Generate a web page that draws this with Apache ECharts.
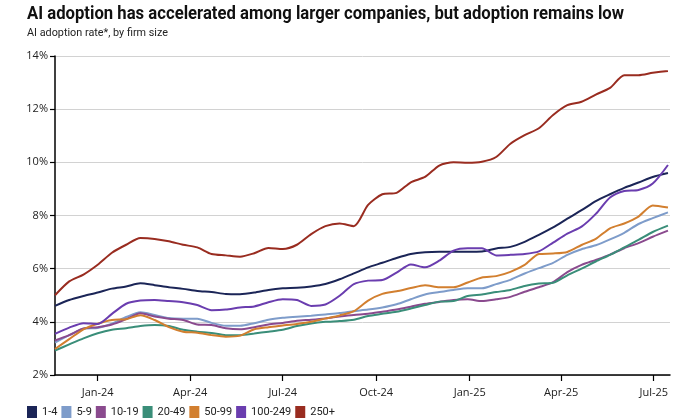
<!DOCTYPE html>
<html>
<head>
<meta charset="utf-8">
<script src="https://cdn.jsdelivr.net/npm/echarts@6/dist/echarts.min.js"></script>
<style>
html,body{margin:0;padding:0;background:#fff;}
#chart{width:700px;height:420px;}
</style>
</head>
<body>
<div id="chart"></div>
<script>
// ---- data ----
var titleText = 'AI adoption has accelerated among larger companies, but adoption remains low';
var subtitleText = 'AI adoption rate*, by firm size';
var dates = [
 '2023-11-20','2023-12-04','2023-12-18','2024-01-01','2024-01-15','2024-01-29','2024-02-12','2024-02-26',
 '2024-03-11','2024-03-25','2024-04-08','2024-04-22','2024-05-06','2024-05-20','2024-06-03','2024-06-17',
 '2024-07-01','2024-07-15','2024-07-29','2024-08-12','2024-08-26','2024-09-09','2024-09-23','2024-10-07',
 '2024-10-21','2024-11-04','2024-11-18','2024-12-02','2024-12-16','2024-12-30','2025-01-13','2025-01-27',
 '2025-02-10','2025-02-24','2025-03-10','2025-03-24','2025-04-07','2025-04-21','2025-05-05','2025-05-19',
 '2025-06-02','2025-06-16','2025-06-30','2025-07-15'
];
var seriesNames = ['1-4','5-9','10-19','20-49','50-99','100-249','250+'];
var firm_1_4 = [4.6,4.82,4.97,5.1,5.25,5.33,5.45,5.38,5.3,5.24,5.16,5.12,5.05,5.04,5.1,5.2,5.26,5.28,5.33,5.42,5.6,5.82,6.05,6.22,6.4,6.55,6.62,6.64,6.64,6.64,6.65,6.76,6.82,7.01,7.27,7.55,7.88,8.2,8.54,8.8,9.04,9.24,9.45,9.6];
var firm_5_9 = [3.22,3.5,3.74,3.77,3.93,4.18,4.36,4.26,4.14,4.12,4.12,3.96,3.85,3.85,3.95,4.08,4.15,4.19,4.23,4.28,4.33,4.4,4.46,4.54,4.66,4.85,5.03,5.12,5.2,5.26,5.26,5.42,5.58,5.82,6.02,6.22,6.52,6.73,6.88,7.1,7.35,7.68,7.9,8.12];
var firm_10_19 = [3.3,3.5,3.75,3.8,3.9,4.1,4.32,4.2,4.12,4.07,3.9,3.88,3.76,3.72,3.8,3.9,3.96,4.04,4.08,4.13,4.2,4.26,4.3,4.38,4.46,4.57,4.68,4.75,4.82,4.85,4.78,4.85,4.94,5.13,5.3,5.49,5.87,6.14,6.33,6.53,6.77,6.96,7.2,7.43];
var firm_20_49 = [2.92,3.15,3.38,3.57,3.7,3.76,3.84,3.88,3.84,3.7,3.63,3.58,3.5,3.5,3.56,3.63,3.7,3.84,3.94,4.0,4.03,4.08,4.22,4.3,4.38,4.5,4.63,4.76,4.78,4.97,5.03,5.12,5.2,5.35,5.44,5.47,5.75,6.0,6.27,6.52,6.8,7.08,7.38,7.62];
var firm_50_99 = [2.98,3.35,3.72,3.93,4.07,4.1,4.25,4.07,3.8,3.63,3.59,3.5,3.44,3.48,3.72,3.8,3.86,3.92,4.0,4.12,4.24,4.4,4.8,5.05,5.15,5.27,5.38,5.3,5.3,5.48,5.67,5.72,5.88,6.14,6.55,6.57,6.63,6.89,7.12,7.52,7.7,7.96,8.38,8.3];
var firm_100_249 = [3.55,3.78,3.95,3.92,4.3,4.68,4.8,4.82,4.78,4.74,4.63,4.44,4.46,4.54,4.58,4.74,4.85,4.82,4.6,4.65,4.98,5.42,5.55,5.57,5.85,6.16,6.05,6.3,6.68,6.77,6.77,6.5,6.52,6.55,6.65,6.98,7.32,7.58,8.06,8.68,8.92,8.96,9.2,9.9];
var firm_250_plus = [5.0,5.52,5.78,6.15,6.6,6.9,7.15,7.12,7.03,6.9,6.8,6.55,6.5,6.45,6.58,6.78,6.74,6.9,7.3,7.6,7.7,7.6,8.4,8.8,8.85,9.25,9.45,9.88,10.0,9.98,10.02,10.2,10.7,11.02,11.28,11.78,12.15,12.28,12.55,12.8,13.28,13.28,13.37,13.44];
var tickDates = ['2024-01-01','2024-04-01','2024-07-01','2024-10-01','2025-01-01','2025-04-01','2025-07-01'];
var tickLabels = ['Jan-24','Apr-24','Jul-24','Oct-24','Jan-25','Apr-25','Jul-25'];
var colors = ['#1b2557','#7e9cca','#8a4a8e','#3a8e79','#d27f2f','#6a3daf','#992c20'];

// ---- build ----
function ts(s){ var p = s.split('-'); return Date.UTC(+p[0], +p[1]-1, +p[2]) / 86400000; } // day number
var allValues = [firm_1_4, firm_5_9, firm_10_19, firm_20_49, firm_50_99, firm_100_249, firm_250_plus];
var tickTs = tickDates.map(ts);
var labelMap = {};
tickTs.forEach(function(t,i){ labelMap[t] = tickLabels[i]; });

// horizontal fit of heading text (condensed look)
var mctx = document.createElement('canvas').getContext('2d');
var titleFont = 'bold 17.5px Roboto, sans-serif';
var subFont = '11.5px Roboto, sans-serif';
function fit(text, font, w){ mctx.font = font; return Math.min(1, w / mctx.measureText(text).width); }
var titleScale = fit(titleText, titleFont, 597);
var subScale = fit(subtitleText, subFont, 141);

var series = seriesNames.map(function(name, i){
  return {
    name: name,
    type: 'line',
    symbol: 'none',
    smooth: 0.25,
    lineStyle: { width: 2, color: colors[i] },
    itemStyle: { color: colors[i] },
    data: dates.map(function(d, k){ return [ts(d), allValues[i][k]]; })
  };
});

var chart = echarts.init(document.getElementById('chart'), null, {renderer:'canvas'});
chart.setOption({
  animation: false,
  color: colors,
  textStyle: { fontFamily: 'Roboto, sans-serif' },
  graphic: [
    { type: 'text', x: 27, y: 6, scaleX: titleScale,
      style: { text: titleText, font: titleFont, fill: '#111', verticalAlign: 'top' } },
    { type: 'text', x: 27, y: 27, scaleX: subScale,
      style: { text: subtitleText, font: subFont, fill: '#222', verticalAlign: 'top' } }
  ],
  legend: {
    left: 22, bottom: -3,
    icon: 'rect',
    itemWidth: 10, itemHeight: 12, itemGap: 4,
    textStyle: { fontSize: 11, color: '#222', fontFamily: 'Roboto, sans-serif' },
    data: seriesNames
  },
  grid: { left: 55, right: 30, top: 56, bottom: 45, containLabel: false },
  xAxis: {
    type: 'value',
    min: ts('2023-11-20'),
    max: ts('2025-07-17'),
    axisLine: { show: true, lineStyle: { color: '#000', width: 1.5 } },
    axisTick: { show: true, length: 6, customValues: tickTs, lineStyle: { color: '#000', width: 1.2 } },
    axisLabel: {
      customValues: tickTs,
      formatter: function(v){ return labelMap[v] || ''; },
      fontSize: 11, color: '#222', margin: 12, fontFamily: 'Open Sans, sans-serif'
    },
    splitLine: { show: false }
  },
  yAxis: {
    type: 'value',
    min: 2, max: 14, interval: 2,
    axisLine: { show: true, lineStyle: { color: '#000', width: 1.5 } },
    axisTick: { show: true, length: 5, lineStyle: { color: '#000', width: 1.2 } },
    axisLabel: { fontSize: 11, color: '#222', margin: 7, fontFamily: 'Open Sans, sans-serif', formatter: function(v){ return v + '%'; } },
    splitLine: { lineStyle: { color: '#d2d2d2', width: 1 } }
  },
  series: series
});
</script>
</body>
</html>
